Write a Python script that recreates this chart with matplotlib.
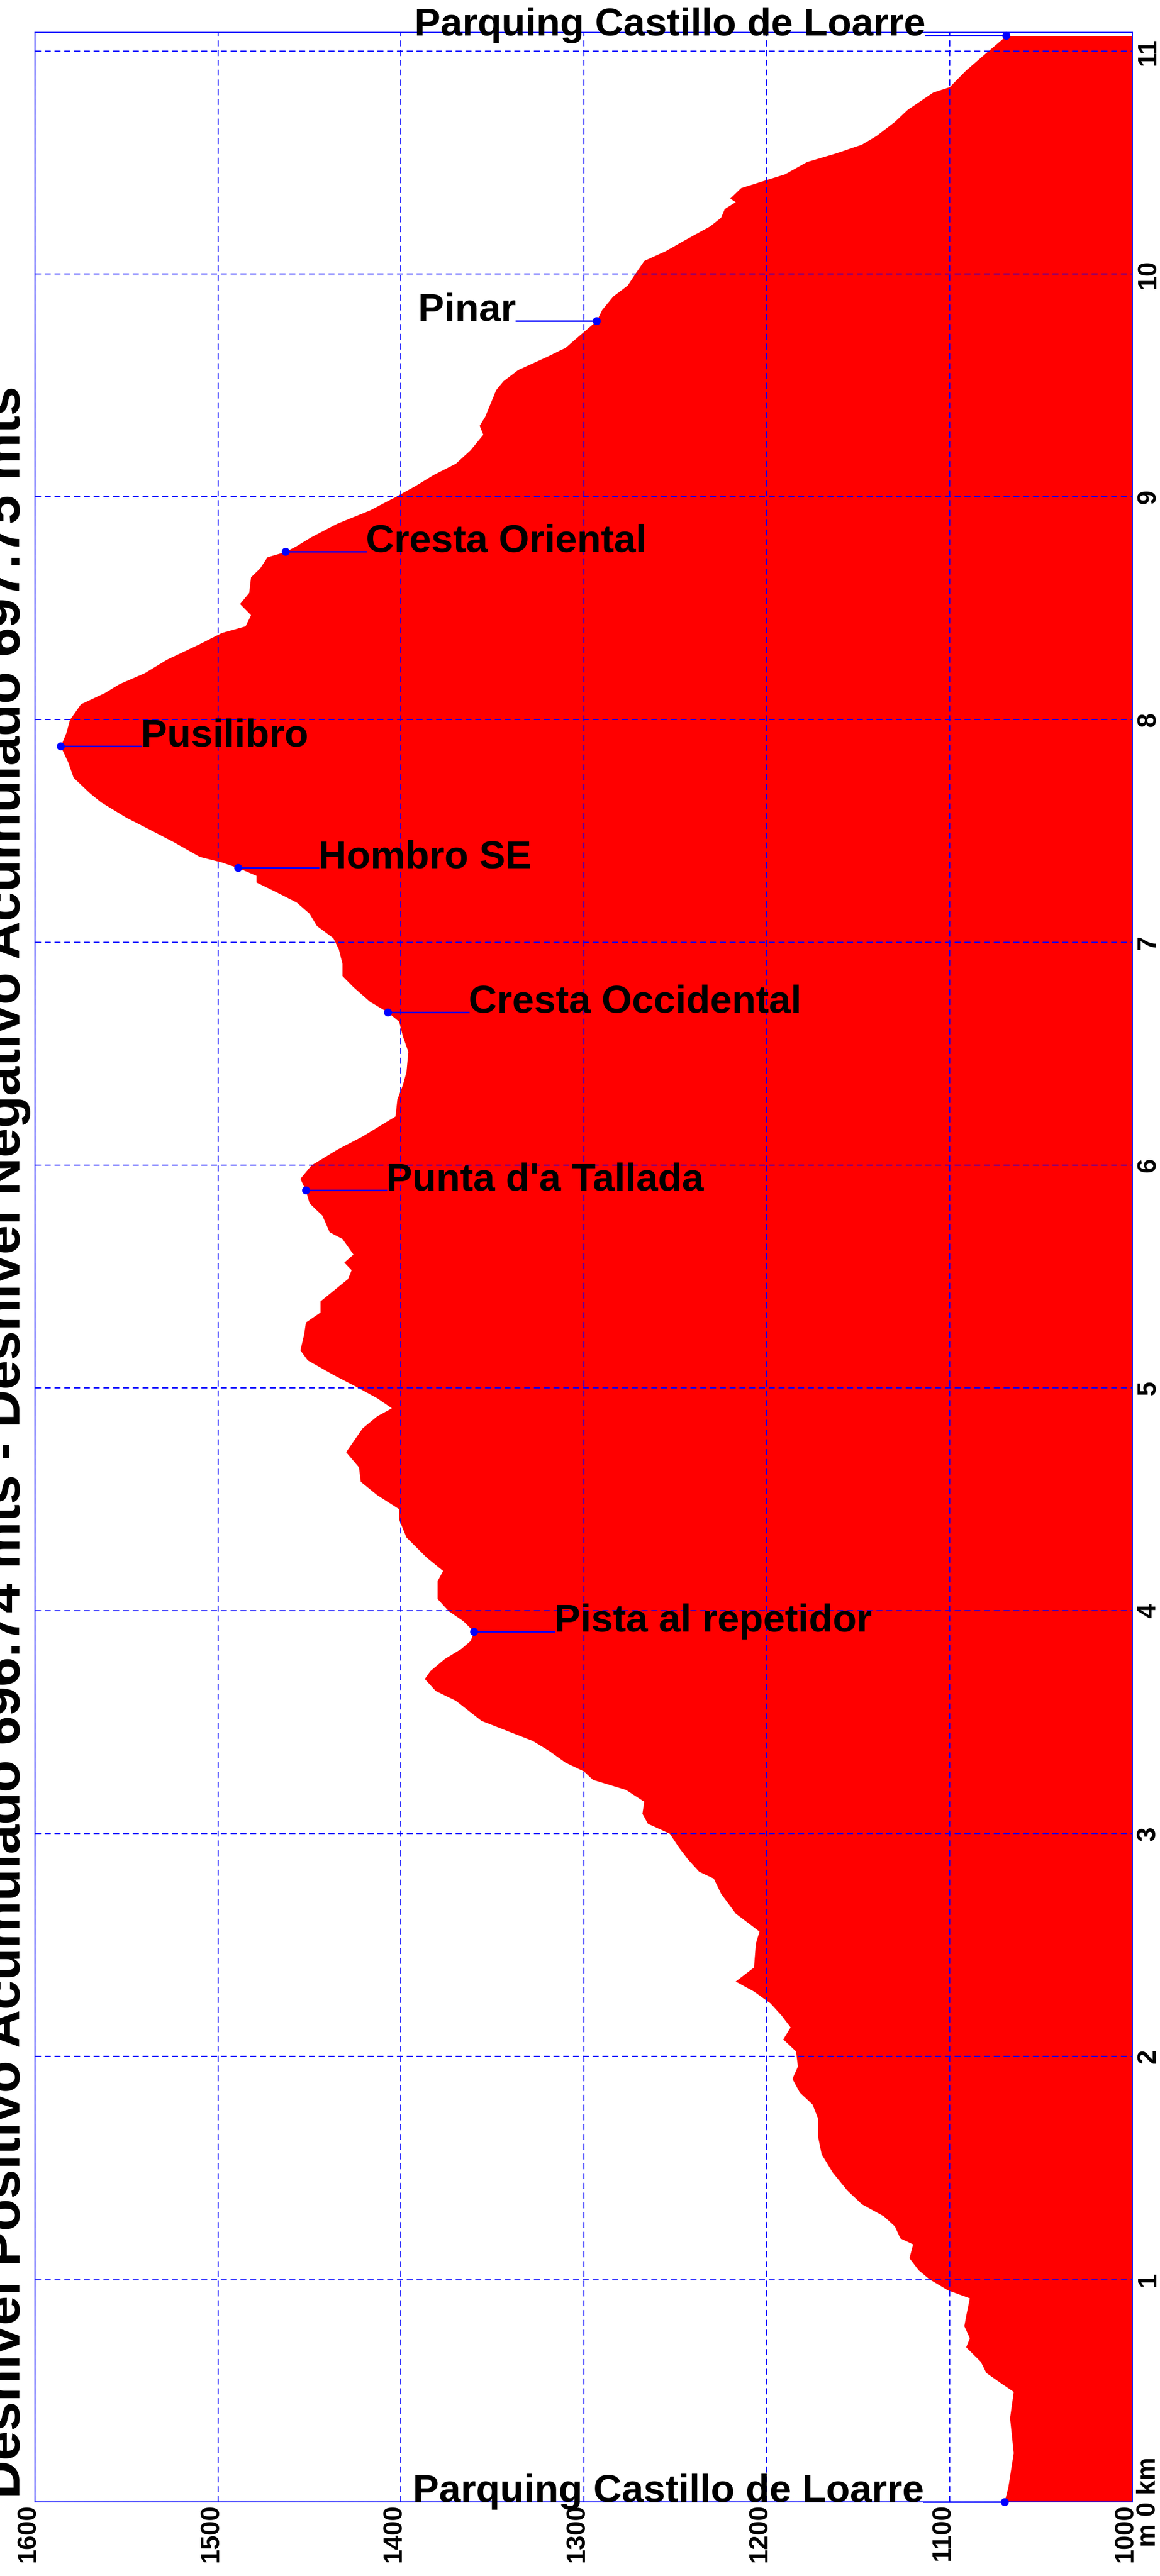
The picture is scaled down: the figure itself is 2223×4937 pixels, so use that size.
import matplotlib.pyplot as plt
import numpy as np

plt.rcParams['font.family'] = ['Liberation Sans', 'DejaVu Sans']

# profile: distance (km) and elevation (m)
km = [0.0, 0.063, 0.22, 0.377, 0.495, 0.534, 0.58, 0.63, 0.695, 0.736, 0.79, 0.835, 0.915,
      0.951, 1.0, 1.041, 1.095, 1.157, 1.184, 1.238, 1.283, 1.337, 1.399, 1.48, 1.561,
      1.641, 1.722, 1.785, 1.839, 1.90, 1.955, 2.023, 2.077, 2.131, 2.185, 2.239, 2.292,
      2.337, 2.40, 2.507, 2.561, 2.642, 2.731, 2.799, 2.83, 2.884, 2.938, 3.0, 3.045,
      3.09, 3.144, 3.197, 3.242, 3.28, 3.319, 3.372, 3.417, 3.507, 3.597, 3.641, 3.695,
      3.73, 3.785, 3.83, 3.865, 3.906, 3.955, 4.0, 4.054, 4.134, 4.18, 4.24, 4.33, 4.41,
      4.457, 4.52, 4.58, 4.645, 4.713, 4.82, 4.874, 4.91, 4.955, 5.0, 5.06, 5.125, 5.17,
      5.24, 5.295, 5.34, 5.39, 5.41, 5.49, 5.53, 5.564, 5.60, 5.67, 5.70, 5.775, 5.83,
      5.887, 5.94, 6.0, 6.07, 6.13, 6.19, 6.22, 6.296, 6.36, 6.42, 6.51, 6.58, 6.645,
      6.686, 6.735, 6.80, 6.85, 6.905, 6.97, 7.02, 7.075, 7.13, 7.18, 7.23, 7.27, 7.30,
      7.335, 7.36, 7.385, 7.45, 7.51, 7.56, 7.63, 7.67, 7.74, 7.81, 7.88, 7.94, 8.0,
      8.07, 8.12, 8.16, 8.21, 8.27, 8.34, 8.39, 8.42, 8.47, 8.52, 8.57, 8.64, 8.68, 8.73,
      8.754, 8.78, 8.82, 8.88, 8.94, 9.0, 9.05, 9.10, 9.15, 9.21, 9.28, 9.32, 9.36, 9.42,
      9.48, 9.52, 9.57, 9.63, 9.67, 9.72, 9.79, 9.84, 9.90, 9.95, 10.0, 10.06, 10.105,
      10.152, 10.215, 10.254, 10.293, 10.324, 10.34, 10.387, 10.418, 10.449, 10.504,
      10.543, 10.582, 10.621, 10.684, 10.738, 10.777, 10.816, 10.84, 10.915, 11.0, 11.07]
elev = [1070, 1068, 1065, 1067, 1065, 1072, 1080, 1083, 1091, 1089, 1092, 1091, 1089,
        1101, 1111, 1117, 1122, 1120, 1127, 1130, 1136, 1148, 1156, 1164, 1170,
        1172, 1172, 1175, 1182, 1186, 1183, 1184, 1191, 1187, 1192, 1198, 1207,
        1217, 1207, 1206, 1204, 1217, 1225, 1229, 1237, 1243, 1248, 1253, 1265,
        1268, 1267, 1277, 1295, 1300, 1310, 1319, 1328, 1356, 1370, 1381, 1387,
        1384, 1376, 1367, 1362, 1360, 1366, 1374, 1380, 1380, 1377, 1386, 1397, 1401,
        1401, 1413, 1422, 1423, 1430, 1421, 1413, 1405, 1413, 1423, 1437, 1451, 1455,
        1453, 1452, 1444, 1444, 1441, 1429, 1427, 1431, 1426, 1432, 1439, 1443, 1450,
        1452, 1455, 1449, 1435, 1421, 1409, 1403, 1402, 1399, 1397, 1396, 1399, 1401,
        1407, 1417, 1426, 1432, 1432, 1434, 1437, 1446, 1450, 1457, 1469, 1479, 1479,
        1489, 1498, 1510, 1524, 1538, 1550, 1564, 1570, 1579, 1582, 1586, 1583, 1581,
        1575, 1562, 1554, 1540, 1528, 1510, 1498, 1485, 1482, 1488, 1483, 1482, 1477, 1473,
        1463, 1457, 1449, 1435, 1417, 1403, 1392, 1382, 1370, 1362, 1355, 1357, 1354, 1351,
        1348, 1344, 1336, 1320, 1310, 1303, 1293, 1290, 1284, 1276, 1272, 1267, 1255,
        1245, 1231, 1225, 1223, 1217, 1220, 1214, 1202, 1190, 1178,
        1162, 1148, 1140, 1130, 1123, 1116, 1109, 1100, 1091, 1079, 1069]

# waypoints
wp_names = ['Parquing Castillo de Loarre', 'Pista al repetidor', "Punta d'a Tallada",
            'Cresta Occidental', 'Hombro SE', 'Pusilibro', 'Cresta Oriental', 'Pinar',
            'Parquing Castillo de Loarre']
wp_km = [0.0, 3.906, 5.887, 6.686, 7.335, 7.88, 8.754, 9.79, 11.07]
wp_elev = [1070, 1360, 1452, 1407, 1489, 1586, 1463, 1293, 1069]
wp_side = ['left', 'right', 'right', 'right', 'right', 'right', 'right', 'left', 'left']

elev_ticks = [1600, 1500, 1400, 1300, 1200, 1100, 1000]
km_ticks = list(range(0, 12))
km_labels = ['m 0 km'] + [str(k) for k in km_ticks[1:]]

title = ('Desnivel Positivo Acumulado 696.74 mts - '
         'Desnivel Negativo Acumulado 697.75 mts')

W, H = 2223, 4937
fig = plt.figure(figsize=(W / 100, H / 100), dpi=100)
ax = fig.add_axes([67 / W, (H - 4795) / H, (2170 - 67) / W, (4795 - 62) / H])

ax.fill_betweenx(km, elev, 1000, color='#ff0000', lw=0, zorder=1)

ax.set_xlim(1600, 1000)
ax.set_ylim(0, 11.085)

ax.set_axisbelow(False)
ax.grid(True, color='#0000ff', lw=1.5, linestyle=(0, (5.5, 3.5)))

for s in ax.spines.values():
    s.set_color('#0000ff')
    s.set_linewidth(1.5)

ax.set_xticks(elev_ticks)
ax.set_xticklabels([str(t) for t in elev_ticks])
ax.tick_params(axis='x', length=0, pad=3)
for lab in ax.get_xticklabels():
    lab.set_fontsize(36)
    lab.set_fontweight('bold')
    lab.set_rotation(90)
    lab.set_rotation_mode('anchor')
    lab.set_ha('right')
    lab.set_va('baseline')

ax.yaxis.tick_right()
ax.set_yticks(km_ticks)
ax.set_yticklabels(km_labels)
ax.tick_params(axis='y', length=0, pad=6)
for lab in ax.get_yticklabels():
    lab.set_fontsize(36)
    lab.set_fontweight('bold')
    lab.set_rotation(90)
    lab.set_rotation_mode('anchor')
    lab.set_ha('center')
    lab.set_va('top')

# waypoint markers, leader lines and labels
lead = 44
for name, k, e, side in zip(wp_names, wp_km, wp_elev, wp_side):
    end = e - lead if side == 'right' else e + lead
    ax.plot([e, end], [k, k], color='#0000ff', lw=2, zorder=4, clip_on=False)
    ax.plot(e, k, 'o', color='#0000ff', ms=10, zorder=5, clip_on=False)
    ax.text(end, k, name, ha='left' if side == 'right' else 'right', va='baseline',
            fontsize=54, fontweight='bold', color='black', zorder=6, clip_on=False)

fig.text(38 / W, (H - 4788) / H, title, rotation=90, rotation_mode='anchor',
         ha='left', va='baseline', fontsize=73, fontweight='bold', color='black')

fig.savefig('out.png', dpi=100, facecolor='white')
